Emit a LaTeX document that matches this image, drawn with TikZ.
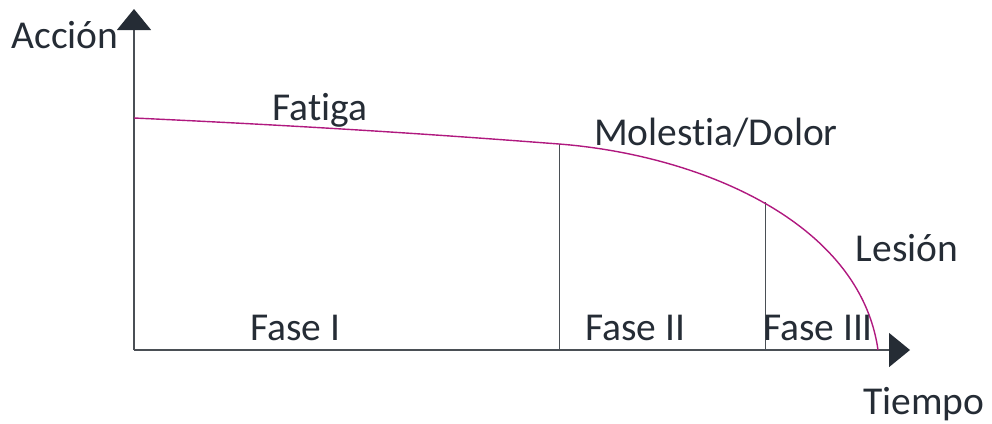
\documentclass[tikz,border=0pt]{standalone}
\usepackage{fontspec}
\setmainfont{Carlito}[Ligatures={NoCommon}]
\usetikzlibrary{arrows.meta}
\definecolor{txt}{HTML}{252C35}
\definecolor{axis}{HTML}{4A4F55}
\definecolor{curve}{HTML}{B0197F}
\tikzset{
  lbl/.style={font=\fontsize{39.5}{44}\selectfont, text=txt, inner sep=0pt},
  axisline/.style={draw=axis, line width=1.3pt},
  tipstyle/.style={-{Triangle[width=34pt,length=21pt,fill=txt,color=txt]}},
  divline/.style={draw=axis, line width=1pt},
  curveline/.style={draw=curve, line width=1.4pt}
}
\begin{document}
\begin{tikzpicture}[x=1pt,y=-1pt]
\useasboundingbox (0,0) rectangle (992,423);
\coordinate (O) at (134,350);
\coordinate (Ytop) at (134,9);
\coordinate (Xend) at (910,350);
\coordinate (C0) at (134,118);
\coordinate (C1) at (559,144);
\coordinate (C2) at (765,202);
\coordinate (C3) at (878,350);
\coordinate (B1) at (559,350);
\coordinate (B2) at (765,350);
\draw[axisline,tipstyle] (O) -- (Ytop);
\draw[axisline,tipstyle] (O) -- (Xend);
\draw[divline] (C1) -- (B1);
\draw[divline] (C2) -- (B2);
\draw[curveline] (C0) .. controls (350,128) and (480,138) .. (C1)
  .. controls (700,155) and (860,222) .. (C3);
\node[lbl] (accion) at (65,35) {Acción};
\node[lbl] (fatiga) at (320,110) {Fatiga};
\node[lbl] (molestia) at (716,133) {Molestia/Dolor};
\node[lbl] (lesion) at (907,248) {Lesión};
\node[lbl] (f1) at (295,328) {Fase I};
\node[lbl] (f2) at (635,328) {Fase II};
\node[lbl] (f3) at (818,328) {Fase III};
\node[lbl] (tiempo) at (924,404) {Tiempo};
\end{tikzpicture}
\end{document}
